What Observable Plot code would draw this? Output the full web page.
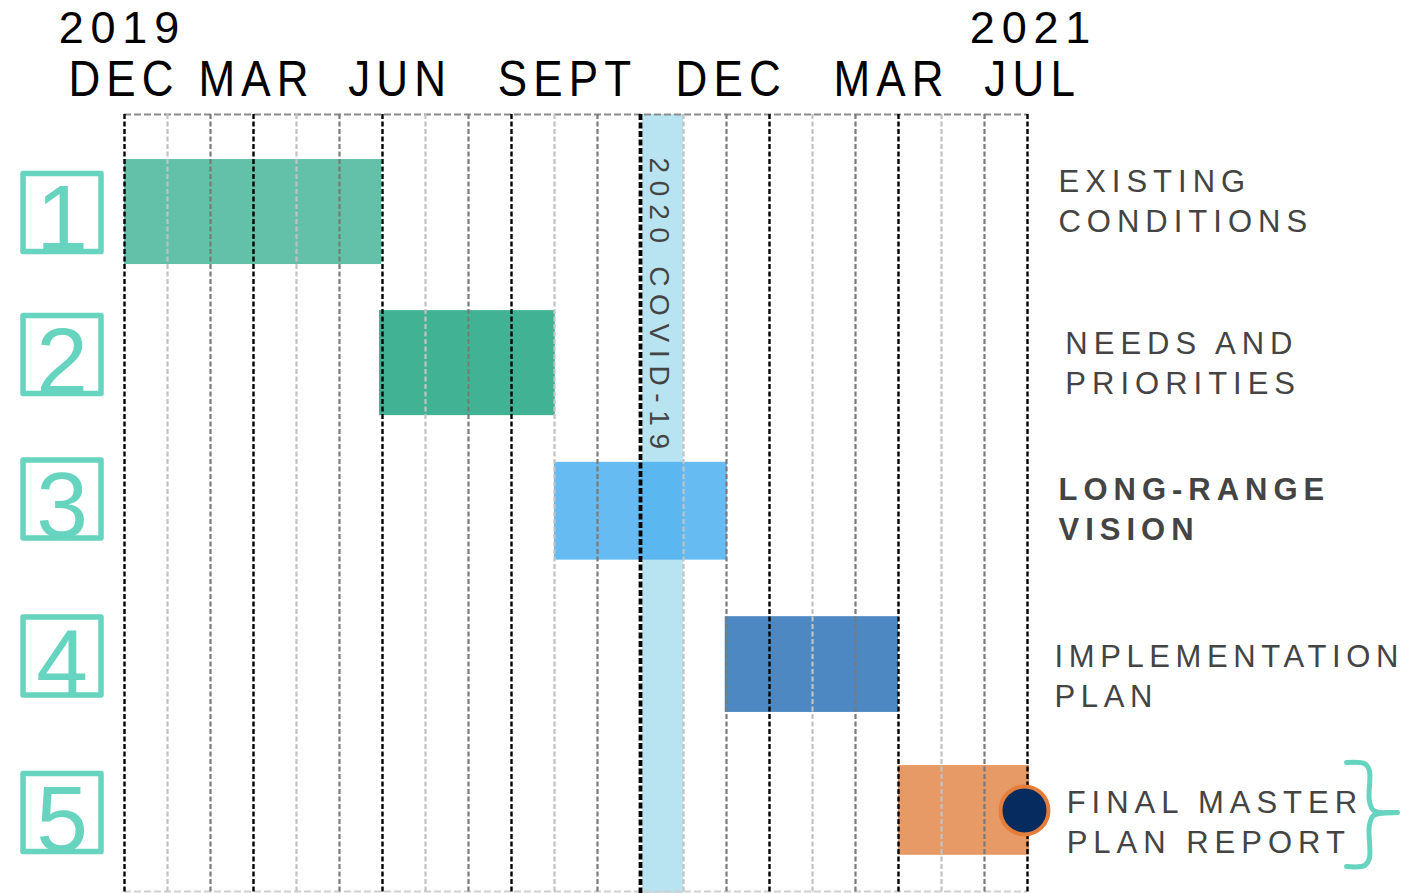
<!DOCTYPE html>
<html>
<head>
<meta charset="utf-8">
<script src="https://cdn.jsdelivr.net/npm/d3@7"></script>
<script src="https://cdn.jsdelivr.net/npm/@observablehq/plot@0.6"></script>
<style>
  html, body { margin: 0; padding: 0; background: #fff; }
  #chart svg { display: block; }
</style>
</head>
<body>
<div id="chart"></div>
<script>
// ---------- data ----------
// month gridlines from Dec 2019 (index 0) to Sep 2021 (index 21)
const gridMonths = ["Dec","Jan","Feb","Mar","Apr","May","Jun","Jul","Aug","Sep","Oct","Nov",
                    "Dec","Jan","Feb","Mar","Apr","May","Jun","Jul","Aug","Sep"];
// header tick labels and their month positions
const monthLabels = ["DEC","MAR","JUN","SEPT","DEC","MAR","JUL"];
const monthLabelPos = [0, 3.08, 6.42, 10.31, 14.12, 17.85, 21.13];
const yearLabels = ["2019","2021"];
const yearLabelPos = [-0.05, 21.14];

// phases
const phases = [1, 2, 3, 4, 5];
const phaseNames = ["EXISTING\nCONDITIONS", "NEEDS AND\nPRIORITIES", "LONG-RANGE\nVISION",
                    "IMPLEMENTATION\nPLAN", "FINAL MASTER\nPLAN REPORT"];
const phaseStart = [0, 5.93, 10, 13.97, 18];      // month index
const phaseEnd   = [5.98, 10.02, 14.02, 18, 21.05]; // month index
const phaseColors = ["#63c1a9", "#41b394", "#47adef", "#4d88c2", "#e89a66"];

// COVID band (month index) and milestone
const covidBand = {label: "2020 COVID-19", start: 12.05, end: 13.0};
const milestone = {month: 20.93, phase: 5};

// ---------- layout (row units; not data) ----------
const rowCenter = [1, 2.01, 3.0, 4.025, 5.0];
const barHalf   = [0.351, 0.351, 0.327, 0.32, 0.30];
const boxRow    = [1.003, 1.953, 2.918, 3.968, 5.014];
const labelRow  = [0.913, 1.995, 2.975, 4.09, 5.063];
const labelX    = [21.72, 21.88, 21.72, 21.63, 21.91];
const yTop = 0.348, yBottom = 5.542, yEnd = 5.555;
const braceTop = [[29.60,5.014],[29.05,5.000],[28.95,4.934],[28.95,4.733],[28.84,4.687],[28.42,4.680]];
const braceBot = [[29.60,5.014],[29.05,5.034],[28.95,5.101],[28.95,5.322],[28.84,5.368],[28.42,5.375]];

const bars = phases.map((p, i) => ({
  phase: p, name: phaseNames[i], start: phaseStart[i], end: phaseEnd[i],
  color: phaseColors[i], y1: rowCenter[i] - barHalf[i], y2: rowCenter[i] + barHalf[i],
  box: boxRow[i], labelY: labelRow[i], labelX: labelX[i]
}));
const grid = gridMonths.map((m, i) => ({m, i}));
const braceData = [
  ...braceTop.map(([x, y]) => ({x, y, z: "a"})),
  ...braceBot.map(([x, y]) => ({x, y, z: "b"}))
];

const teal = "#66d4be";
const textGray = "#444444";
const font = "'Liberation Sans', Arial, sans-serif";
const dash = "5,2.5";

const plot = Plot.plot({
  width: 1411,
  height: 893,
  margin: 0,
  x: {domain: [0, 21], range: [124, 1027], axis: null},
  y: {domain: [yTop, yBottom], range: [114, 891], axis: null},
  style: {background: "#fff", fontFamily: font, overflow: "visible"},
  marks: [
    // COVID band
    Plot.rect([covidBand], {x1: "start", x2: "end", y1: yTop, y2: yEnd, fill: "#b8e3f0"}),
    // phase bars
    Plot.rect(bars, {x1: "start", x2: "end", y1: "y1", y2: "y2", fill: "color",
      fillOpacity: d => d.phase === 3 ? 0.83 : 1}),
    // COVID label
    Plot.text([covidBand], {x: 12.42, y: 0.636, text: "label", rotate: 90, textAnchor: "start",
      lineAnchor: "middle", fontSize: 28, fill: textGray, ariaDescription: "covid-label"}),
    // horizontal borders
    Plot.ruleY([yTop], {x1: 0, x2: 21, stroke: "#8a8a8a", strokeWidth: 2, strokeDasharray: "7,3"}),
    Plot.ruleY([yBottom], {x1: 0, x2: 21, stroke: "#d0d0d0", strokeWidth: 2, strokeDasharray: "7,3"}),
    // month gridlines
    Plot.ruleX(grid.filter(d => d.i % 3 === 1), {x: "i", y1: yTop, y2: yEnd, stroke: "#c2c2c2", strokeWidth: 2.2, strokeDasharray: dash}),
    Plot.ruleX(grid.filter(d => d.i % 3 === 2), {x: "i", y1: yTop, y2: yEnd, stroke: "#7a7a7a", strokeWidth: 2.2, strokeDasharray: dash}),
    Plot.ruleX(grid.filter(d => d.i % 3 === 0 && d.i !== 12), {x: "i", y1: yTop, y2: yEnd, stroke: "#000", strokeWidth: 2.4, strokeDasharray: dash}),
    Plot.ruleX(grid.filter(d => d.i === 12), {x: "i", y1: yTop, y2: yEnd, stroke: "#000", strokeWidth: 3.8, strokeDasharray: "6,2.5"}),
    // milestone
    Plot.dot([milestone], {x: "month", y: "phase", r: 24, fill: "#062b5f", stroke: "#e57e3a", strokeWidth: 4}),
    // number boxes
    Plot.dot(bars, {x: -1.453, y: "box", r: 44, symbol: "square", stroke: teal, strokeWidth: 5.5,
      fill: "none", strokeLinejoin: "round"}),
    Plot.text(bars, {x: -1.453, y: "box", dy: 38, text: d => String(d.phase), lineAnchor: "bottom",
      fontSize: 93, fill: teal}),
    // right phase labels
    Plot.text(bars.filter(d => d.phase !== 3 && d.phase !== 4), {x: "labelX", y: "labelY", text: "name",
      textAnchor: "start", lineAnchor: "middle", lineHeight: 1.29, fontSize: 31, fill: textGray, ariaDescription: "phase-labels"}),
    Plot.text(bars.filter(d => d.phase === 4), {x: "labelX", y: "labelY", text: "name",
      textAnchor: "start", lineAnchor: "middle", lineHeight: 1.29, fontSize: 31, fill: textGray, ariaDescription: "phase-label-4"}),
    Plot.text(bars.filter(d => d.phase === 3), {x: "labelX", y: "labelY", text: "name",
      textAnchor: "start", lineAnchor: "middle", lineHeight: 1.29, fontSize: 31, fontWeight: "bold", fill: textGray, ariaDescription: "phase-label-bold"}),
    // brace
    Plot.line(braceData, {x: "x", y: "y", z: "z", curve: "catmull-rom", stroke: teal, strokeWidth: 5,
      strokeLinecap: "round", strokeLinejoin: "round"}),
    // header labels
    Plot.text(monthLabels.map((t, i) => ({t, x: monthLabelPos[i]})), {x: "x", y: 0.227, text: "t",
      textAnchor: "middle", lineAnchor: "bottom", fontSize: 50, fill: "#000", ariaDescription: "month-labels"}),
    Plot.text(yearLabels.map((t, i) => ({t, x: yearLabelPos[i]})), {x: "x", y: -0.13, text: "t",
      textAnchor: "middle", lineAnchor: "bottom", fontSize: 45, fill: "#000", ariaDescription: "year-labels"})
  ]
});

document.getElementById("chart").appendChild(plot);

function groupsFor(k) {
  return Array.from(plot.querySelectorAll(`[aria-description="${k}"]`));
}
// letter spacing (style only)
const spacing = {"covid-label": 7.7, "phase-labels": 6, "phase-label-4": 5.6,
  "phase-label-bold": 6, "month-labels": 7, "year-labels": 6.8};
for (const [k, v] of Object.entries(spacing)) {
  groupsFor(k).forEach(el => {
    el.style.letterSpacing = v + "px";
    el.querySelectorAll("text, tspan").forEach(t => t.style.letterSpacing = v + "px");
  });
}
// slightly condensed month header glyphs, scaled about each label's centre
groupsFor("month-labels").forEach(el => {
  el.querySelectorAll("text").forEach(t => {
    const b = t.getBBox();
    const cx = b.x + b.width / 2 - 3.5;
    const tr = t.getAttribute("transform") || "";
    t.setAttribute("transform", `${tr} translate(${cx},0) scale(0.88,1) translate(${-cx},0)`);
  });
});
</script>
</body>
</html>
